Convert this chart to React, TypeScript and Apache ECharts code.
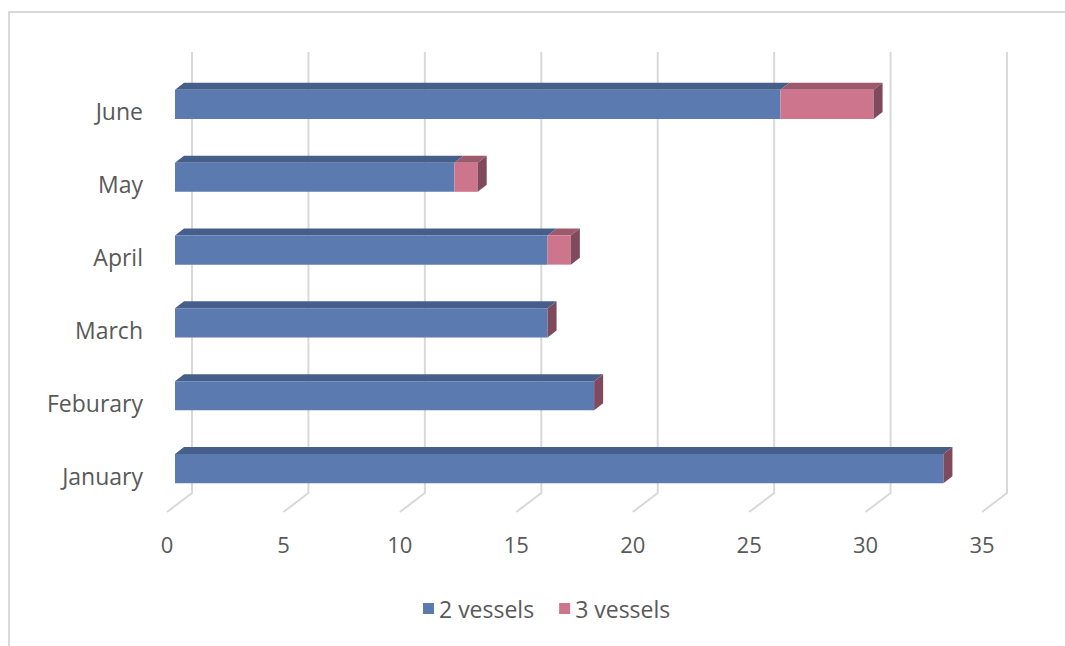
import React, { useEffect, useRef } from "react";
import * as echarts from "echarts";

const months = ["January", "Feburary", "March", "April", "May", "June"];
const twoVessels = [33, 18, 16, 16, 12, 26];
const threeVessels = [0, 0, 0, 1, 1, 4];
const xTicks = [0, 5, 10, 15, 20, 25, 30, 35];
const seriesNames = ["2 vessels", "3 vessels"];

const FONT = "Open Sans";
const TEXT = "#595959";
const GRID = "#d9d9d9";
const BLUE = { front: "#5b7bb0", top: "#465f8a", side: "#4e6a99" };
const PINK = { front: "#cd758d", top: "#9d5a6d", side: "#7e4a5c" };

const DX = 9;
const DY = 7;

function makeBarRender(colors: { front: string; top: string; side: string }, drawSide: boolean) {
  return (params: any, api: any) => {
    const cat = api.value(0);
    const s = api.value(1);
    const e = api.value(2);
    const p0 = api.coord([s, cat]);
    const p1 = api.coord([e, cat]);
    const band = api.size([0, 1])[1];
    const h = band * 0.4;
    const cy = p0[1] - 7;
    const x0 = p0[0] + 8;
    const x1 = p1[0] + 8;
    const top = cy - h / 2;
    const bot = cy + h / 2;
    const children: any[] = [];
    children.push({
      type: "polygon",
      shape: { points: [[x0, top], [x0 + DX, top - DY], [x1 + DX, top - DY], [x1, top]] },
      style: { fill: colors.top },
    });
    if (x1 - x0 > 0) {
      children.push({
        type: "rect",
        shape: { x: x0, y: top, width: x1 - x0, height: h },
        style: { fill: colors.front },
      });
    }
    if (drawSide) {
      children.push({
        type: "polygon",
        shape: { points: [[x1, top], [x1 + DX, top - DY], [x1 + DX, bot - DY], [x1, bot]] },
        style: { fill: colors.side },
      });
    }
    return { type: "group", children };
  };
}

export default function App() {
  const ref = useRef<HTMLDivElement>(null);
  useEffect(() => {
    if (!ref.current) return;
    const chart = echarts.init(ref.current, undefined, { renderer: "svg" });

    const blueData = months.map((_, i) => [i, 0, twoVessels[i]]);
    const pinkData = months.map((_, i) => [i, twoVessels[i], twoVessels[i] + threeVessels[i]]);
    const gridData = xTicks.map((v) => [v, 0]);

    chart.setOption({
      animation: false,
      backgroundColor: "#ffffff",
      graphic: [
        {
          type: "rect",
          shape: { x: 9, y: 12, width: 1200, height: 800 },
          style: { fill: "none", stroke: GRID, lineWidth: 2 },
          silent: true,
          z: -10,
        },
      ],
      grid: { left: 167, right: 83, top: 75, bottom: 134, containLabel: false },
      xAxis: {
        type: "value",
        min: 0,
        max: 35,
        interval: 5,
        axisLine: { show: false },
        axisTick: { show: false },
        splitLine: { show: false },
        axisLabel: { color: TEXT, fontFamily: FONT, fontSize: 22, margin: 21 },
      },
      yAxis: {
        type: "category",
        data: months,
        axisLine: { show: false },
        axisTick: { show: false },
        splitLine: { show: false },
        axisLabel: { color: TEXT, fontFamily: FONT, fontSize: 23, margin: 24 },
      },
      legend: {
        data: seriesNames.map((n, i) => ({
          name: n,
          icon: "rect",
          itemStyle: { color: i === 0 ? BLUE.front : PINK.front },
        })),
        left: 418,
        top: 592,
        itemWidth: 11,
        itemHeight: 11,
        itemGap: 25,
        textStyle: { color: TEXT, fontFamily: FONT, fontSize: 23 },
      },
      series: [
        {
          type: "custom",
          name: "grid",
          silent: true,
          data: gridData,
          encode: { x: 0, y: 1 },
          z: 1,
          renderItem: (params: any, api: any) => {
            const v = api.value(0);
            const p = api.coord([v, 0]);
            const cs = params.coordSys;
            const floor = cs.y + cs.height;
            const x = p[0];
            return {
              type: "polyline",
              shape: {
                points: [
                  [x + 25, cs.y - 23],
                  [x + 25, floor - 19],
                  [x, floor],
                ],
              },
              style: { stroke: GRID, lineWidth: 2, fill: "none" },
            };
          },
        },
        {
          type: "custom",
          name: seriesNames[0],
          data: blueData,
          encode: { y: 0, x: [1, 2] },
          itemStyle: { color: BLUE.front },
          z: 2,
          renderItem: makeBarRender(BLUE, false),
        },
        {
          type: "custom",
          name: seriesNames[1],
          data: pinkData,
          encode: { y: 0, x: [1, 2] },
          itemStyle: { color: PINK.front },
          z: 3,
          renderItem: makeBarRender(PINK, true),
        },
      ],
    });
    return () => chart.dispose();
  }, []);
  return (
    <div
      ref={ref}
      style={{ position: "fixed", left: 0, top: 0, width: 1065, height: 646, background: "#fff" }}
    />
  );
}
